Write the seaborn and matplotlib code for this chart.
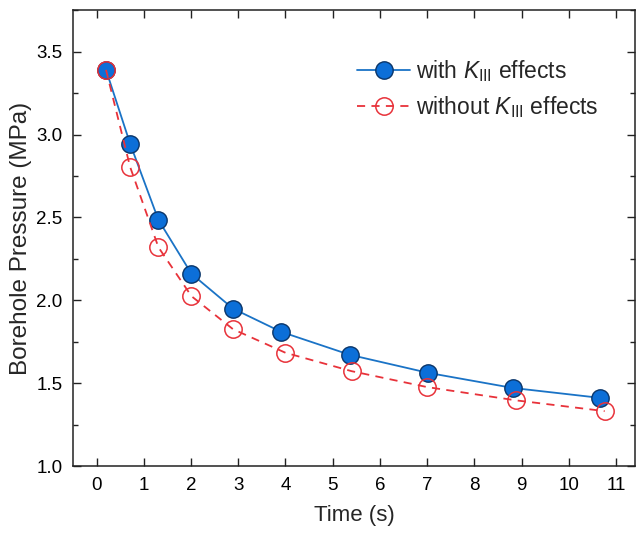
import matplotlib
matplotlib.use("Agg")
import matplotlib.pyplot as plt
from matplotlib.ticker import MultipleLocator
import seaborn as sns

# Borehole pressure decay, read at the sampled times
time_with = [0.20, 0.71, 1.31, 2.01, 2.89, 3.91, 5.36, 7.02, 8.81, 10.66]
pressure_with = [3.39, 2.945, 2.485, 2.16, 1.95, 1.81, 1.672, 1.563, 1.472, 1.412]

time_without = [0.20, 0.71, 1.31, 2.01, 2.89, 4.00, 5.40, 7.00, 8.88, 10.76]
pressure_without = [3.39, 2.805, 2.32, 2.025, 1.826, 1.684, 1.573, 1.477, 1.397, 1.332]

label_with = r"with $K_{\mathrm{III}}$ effects"
label_without = r"without $K_{\mathrm{III}}$ effects"

x_ticks = list(range(0, 12))
y_ticks = [1.0, 1.5, 2.0, 2.5, 3.0, 3.5]

sns.set_theme(style="ticks")
plt.rcParams["font.family"] = ["Liberation Sans", "DejaVu Sans"]
plt.rcParams["mathtext.fontset"] = "custom"
plt.rcParams["mathtext.rm"] = "Liberation Sans"
plt.rcParams["mathtext.it"] = "Liberation Sans:italic"
plt.rcParams["mathtext.bf"] = "Liberation Sans:bold"

fig = plt.figure(figsize=(6.4, 5.34), dpi=100)
ax = fig.add_axes([0.114, 0.127, 0.878, 0.854])

blue_line = "#1a73c6"
blue_fill = "#0c6fd8"
blue_edge = "#0a3569"
red = "#e8323a"

sns.lineplot(x=time_with, y=pressure_with, ax=ax, sort=False, color=blue_line,
             linewidth=1.3, marker="o", markersize=12.5,
             markerfacecolor=blue_fill, markeredgecolor=blue_edge,
             markeredgewidth=1.0, label=label_with)
sns.lineplot(x=time_without, y=pressure_without, ax=ax, sort=False, color=red,
             linewidth=1.3, marker="o", markersize=12.5,
             markerfacecolor="none", markeredgecolor=red,
             markeredgewidth=1.1, label=label_without)
ax.lines[1].set_dashes([4.5, 3.5])

ax.set_xlim(-0.5, 11.4)
ax.set_ylim(1.0, 3.75)
ax.set_xticks(x_ticks)
ax.set_yticks(y_ticks)
ax.set_yticklabels([f"{v:.1f}" for v in y_ticks])
ax.yaxis.set_minor_locator(MultipleLocator(0.25))

for side in ["top", "right", "bottom", "left"]:
    ax.spines[side].set_visible(True)
    ax.spines[side].set_linewidth(1.1)
    ax.spines[side].set_color("#222222")

ax.tick_params(axis="both", which="major", direction="in", length=5.5,
               width=1.0, labelsize=13.5, top=True, right=True,
               colors="#222222", labelcolor="black", pad=7.5)
ax.tick_params(axis="y", which="minor", direction="in", length=3.5,
               width=1.0, right=True, colors="#222222")
ax.tick_params(axis="x", which="minor", bottom=False, top=False)

ax.set_xlabel("Time (s)", fontsize=16, labelpad=8)
ax.set_ylabel("Borehole Pressure (MPa)", fontsize=17.5, labelpad=3)

leg = ax.legend(loc="upper left", bbox_to_anchor=(0.49, 0.915), frameon=False,
                fontsize=16.5, handlelength=2.3, handletextpad=0.25,
                labelspacing=0.45, borderaxespad=0.0)

fig.savefig("out.png", dpi=100)
